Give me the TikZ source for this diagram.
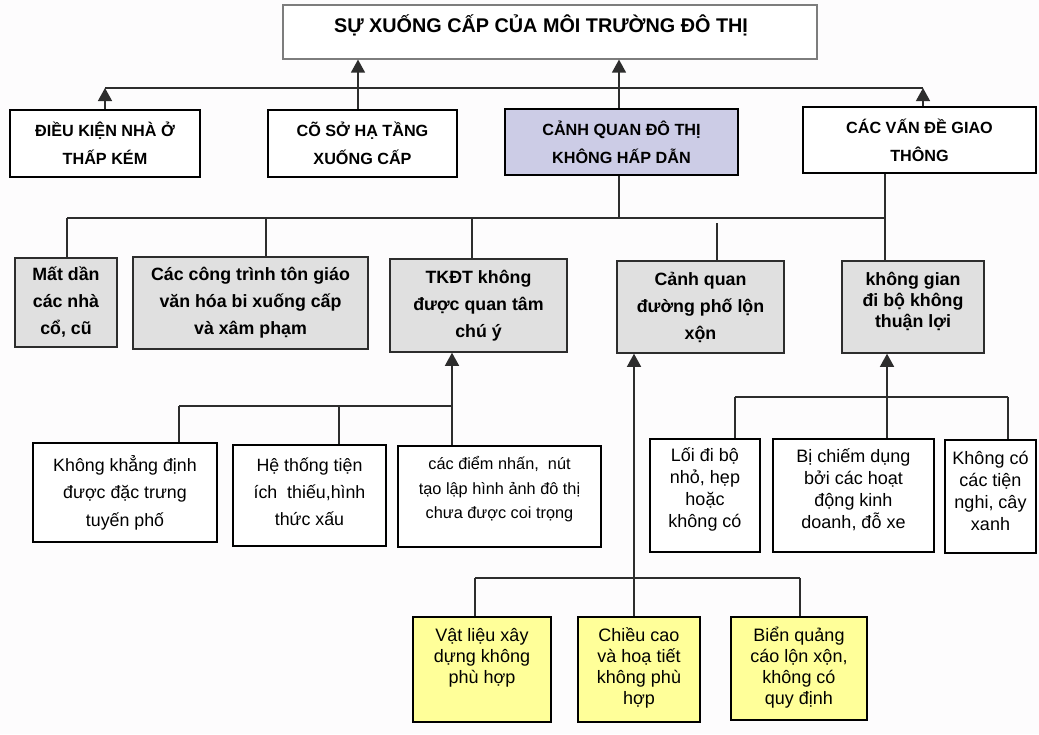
\documentclass[tikz,border=0pt]{standalone}
\usepackage{fontspec}
\setmainfont{Liberation Sans}
\usetikzlibrary{arrows.meta}
\definecolor{bgc}{RGB}{253,252,253}
\definecolor{lav}{RGB}{204,204,230}
\definecolor{gbox}{RGB}{224,224,224}
\definecolor{ybox}{RGB}{255,255,153}
\definecolor{tline}{RGB}{125,125,125}
\definecolor{dline}{RGB}{45,45,45}
\begin{document}
\begin{tikzpicture}[x=1pt,y=-1pt,
  box/.style={draw=black, line width=1.5pt, inner sep=0pt, align=center},
  topbox/.style={draw=tline, line width=1.2pt, fill=white, inner sep=0pt},
  lvone/.style={box, fill=white, font=\fontsize{16.2}{28}\selectfont\bfseries},
  lvtwo/.style={box, draw=dline, fill=gbox, font=\fontsize{17.8}{27}\selectfont\bfseries},
  lvthree/.style={box, fill=white, font=\fontsize{17.8}{27.5}\selectfont},
  lvright/.style={box, fill=white},
  ylw/.style={box, fill=ybox},
  txt/.style={inner sep=0pt, align=center},
  conn/.style={draw=dline, line width=1.3pt},
  arr/.style={conn, -{Triangle[width=14pt,length=13pt]}}
]
\useasboundingbox (0,0) rectangle (1039,734);
\fill[bgc] (0,0) rectangle (1039,734);

% title
\node[topbox, minimum width=534, minimum height=54] (title) at (550,32) {};
\node[txt, font=\fontsize{19.8}{23}\selectfont\bfseries] (titlet) at (541,25) {SỰ XUỐNG CẤP CỦA MÔI TRƯỜNG ĐÔ THỊ};

% level 1
\node[lvone, minimum width=190, minimum height=67] (A) at (105,143.5) {ĐIỀU KIỆN NHÀ Ở\\THẤP KÉM};
\node[lvone, minimum width=189, minimum height=67] (B) at (362.5,143.5) {CÕ SỞ HẠ TẦNG\\XUỐNG CẤP};
\node[lvone, fill=lav, minimum width=233, minimum height=66] (C) at (621.5,142) {CẢNH QUAN ĐÔ THỊ\\KHÔNG HẤP DẪN};
\node[lvone, minimum width=233, minimum height=66] (D) at (919.5,140) {CÁC VẤN ĐỀ GIAO\\THÔNG};

% level 2
\node[lvtwo, minimum width=102, minimum height=89] (M) at (66,302.5) {Mất dần\\các nhà\\cổ, cũ};
\node[lvtwo, minimum width=235, minimum height=92] (CT) at (250.5,303) {Các công trình tôn giáo\\văn hóa bi xuống cấp\\và xâm phạm};
\node[lvtwo, minimum width=177, minimum height=93] (TK) at (478.5,305.5) {TKĐT không\\được quan tâm\\chú ý};
\node[lvtwo, minimum width=167, minimum height=92] (CQ) at (700.5,307) {Cảnh quan\\đường phố lộn\\xộn};
\node[lvtwo, minimum width=142, minimum height=92] (KG) at (913,307) {};
\node[txt, font=\fontsize{17.8}{21}\selectfont\bfseries] (KGt) at (913,301) {không gian\\đi bộ không\\thuận lợi};

% level 3 left
\node[lvthree, minimum width=184, minimum height=99] (K1) at (125,492.5) {Không khẳng định\\được đặc trưng\\tuyến phố};
\node[lvthree, minimum width=153, minimum height=101] (K2) at (309.5,495.5) {};
\node[txt, font=\fontsize{17.8}{27}\selectfont] (K2t) at (309.5,492) {Hệ thống tiện\\ích\ \ thiếu,hình\\thức xấu};
\node[lvthree, minimum width=203, minimum height=101] (K3) at (499.5,496.5) {};
\node[txt, font=\fontsize{16.3}{24.5}\selectfont] (K3t) at (499.5,489.5) {các điểm nhấn,\ \ nút\\tạo lập hình ảnh đô thị\\chưa được coi trọng};

% level 3 right
\node[lvright, minimum width=110, minimum height=113] (R1) at (705,495.5) {};
\node[txt, font=\fontsize{18}{22}\selectfont] (R1t) at (705,489.5) {Lối đi bộ\\nhỏ, hẹp\\hoặc\\không có};
\node[lvright, minimum width=161, minimum height=113] (R2) at (853.5,495.5) {};
\node[txt, font=\fontsize{18}{22}\selectfont] (R2t) at (853.5,489.5) {Bị chiếm dụng\\bởi các hoạt\\động kinh\\doanh, đỗ xe};
\node[lvright, minimum width=91, minimum height=113] (R3) at (990.5,496.5) {};
\node[txt, font=\fontsize{18}{22}\selectfont] (R3t) at (990.5,491) {Không có\\các tiện\\nghi, cây\\xanh};

% yellow
\node[ylw, minimum width=138, minimum height=105] (Y1) at (482,669.5) {};
\node[txt, font=\fontsize{18}{21}\selectfont] (Y1t) at (482,658) {Vật liệu xây\\dựng không\\phù hợp};
\node[ylw, minimum width=122, minimum height=105] (Y2) at (639,669.5) {};
\node[txt, font=\fontsize{18}{21}\selectfont] (Y2t) at (639,668) {Chiều cao\\và hoạ tiết\\không phù\\hợp};
\node[ylw, minimum width=136, minimum height=103] (Y3) at (799,668.5) {};
\node[txt, font=\fontsize{18}{21}\selectfont] (Y3t) at (799,668) {Biển quảng\\cáo lộn xộn,\\không có\\quy định};

% top bus
\coordinate (busL) at (105,88);
\coordinate (busR) at (923,88);
\coordinate (hB) at (358,88);
\coordinate (hC) at (619,88);
\draw[conn] (busL) -- (busR);
\draw[arr] (busL |- A.north) -- (busL);
\draw[arr] (busR |- D.north) -- (busR);
\draw[arr] (hB |- B.north) -- (hB |- title.south);
\draw[arr] (hC |- C.north) -- (hC |- title.south);

% level 2 bus
\coordinate (m1) at (67,218);
\coordinate (m2) at (266,218);
\coordinate (m3) at (472,218);
\coordinate (mc) at (619,218);
\coordinate (m4) at (717,223);
\coordinate (m5) at (885,218);
\draw[conn] (mc |- C.south) -- (mc);
\draw[conn] (m5 |- D.south) -- (m5);
\draw[conn] (m1) -- (m5);
\draw[conn] (m1) -- (m1 |- M.north);
\draw[conn] (m2) -- (m2 |- CT.north);
\draw[conn] (m3) -- (m3 |- TK.north);
\draw[conn] (m4) -- (m4 |- CQ.north);
\draw[conn] (m5) -- (m5 |- KG.north);

% level 3 left bus
\coordinate (l1) at (179,406);
\coordinate (l2) at (339,406);
\coordinate (l3) at (452,406);
\draw[arr] (l3 |- K3.north) -- (l3 |- TK.south);
\draw[conn] (l1) -- (l3);
\draw[conn] (l1) -- (l1 |- K1.north);
\draw[conn] (l2) -- (l2 |- K2.north);

% level 3 right bus
\coordinate (r1) at (735,397);
\coordinate (r2) at (887,397);
\coordinate (r3) at (1008,397);
\draw[arr] (r2 |- R2.north) -- (r2 |- KG.south);
\draw[conn] (r1) -- (r3);
\draw[conn] (r1) -- (r1 |- R1.north);
\draw[conn] (r3) -- (r3 |- R3.north);

% yellow bus
\coordinate (y1) at (475,578);
\coordinate (y2) at (634,578);
\coordinate (y3) at (800,578);
\draw[arr] (y2 |- Y2.north) -- (y2 |- CQ.south);
\draw[conn] (y1) -- (y3);
\draw[conn] (y1) -- (y1 |- Y1.north);
\draw[conn] (y3) -- (y3 |- Y3.north);
\end{tikzpicture}
\end{document}
